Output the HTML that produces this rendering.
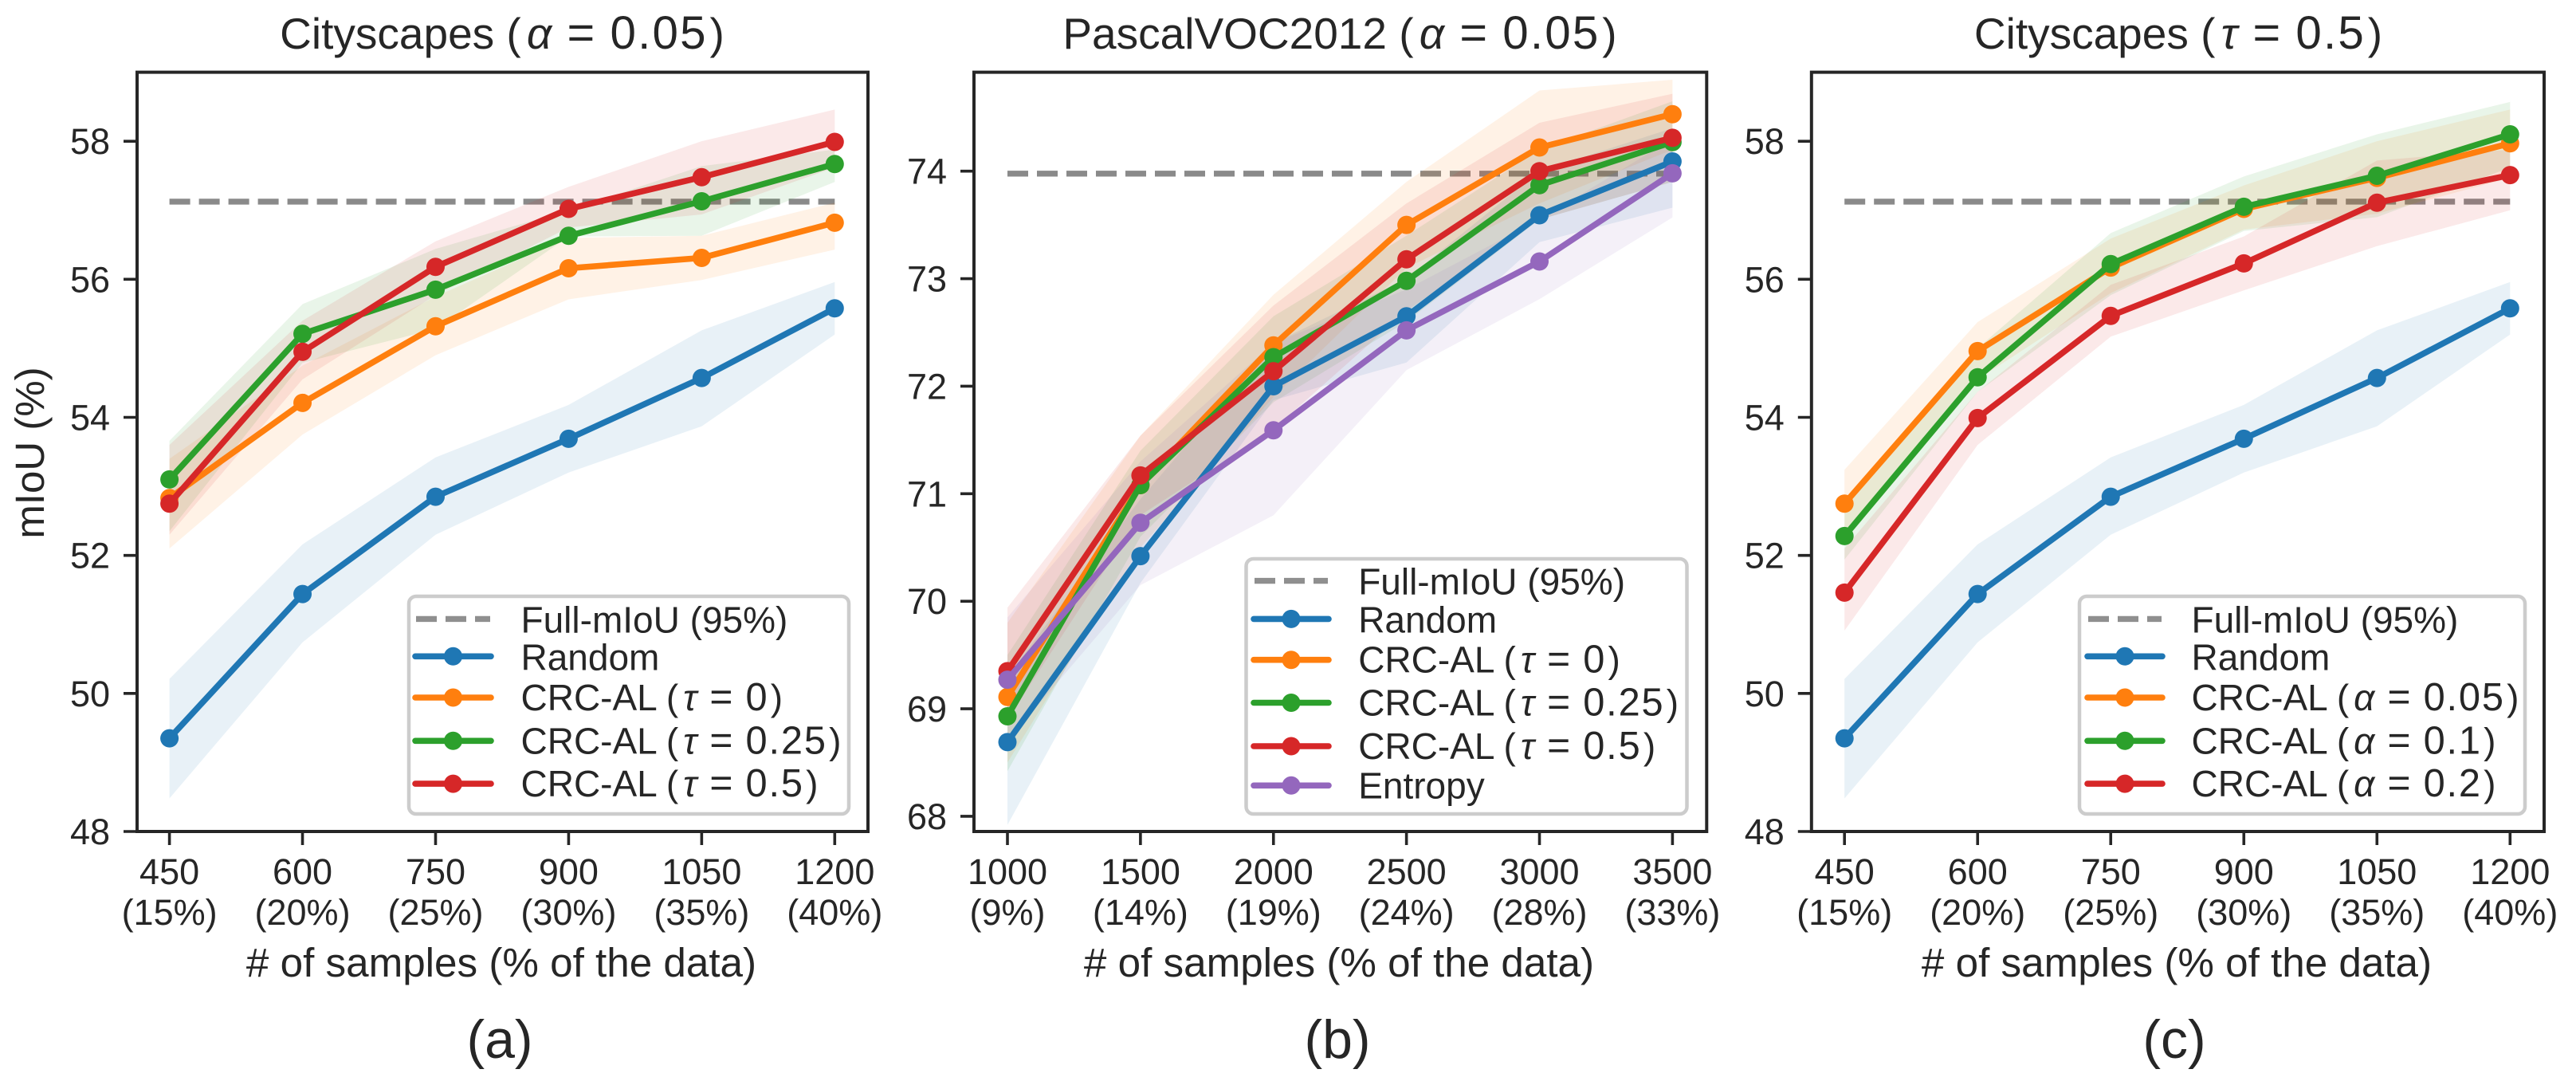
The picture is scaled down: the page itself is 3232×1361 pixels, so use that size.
<!DOCTYPE html>
<html>
<head>
<meta charset="utf-8">
<title>CRC-AL mIoU charts</title>
<style>
html,body{margin:0;padding:0;background:#fff;}
svg{display:block;}
text{font-family:"Liberation Sans","DejaVu Sans",sans-serif;fill:#262626;}
</style>
</head>
<body>
<svg id="figure" xmlns="http://www.w3.org/2000/svg" width="3232" height="1361" viewBox="0 0 3232 1361"></svg>
<script>
// ---- Data: x axis ----
const citySamples = [450, 600, 750, 900, 1050, 1200];
const cityPercents = ['(15%)', '(20%)', '(25%)', '(30%)', '(35%)', '(40%)'];
const vocSamples = [1000, 1500, 2000, 2500, 3000, 3500];
const vocPercents = ['(9%)', '(14%)', '(19%)', '(24%)', '(28%)', '(33%)'];
// ---- Data: y ticks ----
const cityYTicks = [48, 50, 52, 54, 56, 58];
const vocYTicks = [68, 69, 70, 71, 72, 73, 74];
// ---- Data: full-mIoU reference ----
const cityFullMiou = 57.125;
const vocFullMiou = 73.977;
// ---- Cityscapes random baseline (panels a and c) ----
const cityRandomMean = [49.35, 51.44, 52.85, 53.69, 54.57, 55.58];
const cityRandomLow = [48.48, 50.74, 52.3, 53.2, 53.87, 55.2];
const cityRandomHigh = [50.21, 52.16, 53.42, 54.18, 55.26, 55.96];
// ---- Panel a ----
const aTau0Mean = [52.83, 54.21, 55.32, 56.16, 56.31, 56.82];
const aTau0Low = [52.1, 53.75, 54.9, 55.71, 55.99, 56.43];
const aTau0High = [53.4, 54.75, 55.75, 56.6, 56.63, 57.11];
const aTau25Mean = [53.1, 55.21, 55.85, 56.63, 57.13, 57.67];
const aTau25Low = [52.35, 54.79, 55.28, 56.62, 56.63, 57.41];
const aTau25High = [53.66, 55.64, 56.44, 57.0, 57.64, 57.88];
const aTau5Mean = [52.75, 54.95, 56.18, 57.02, 57.48, 57.99];
const aTau5Low = [52.3, 54.55, 55.77, 56.75, 56.94, 57.62];
const aTau5High = [53.6, 55.4, 56.55, 57.34, 58.0, 58.46];
// ---- Panel b ----
const bRandomMean = [68.69, 70.42, 72.0, 72.65, 73.59, 74.09];
const bRandomLow = [67.92, 70.17, 71.87, 72.22, 73.34, 73.66];
const bRandomHigh = [69.3, 70.95, 72.4, 73.0, 74.0, 74.4];
const bTau0Mean = [69.11, 71.08, 72.38, 73.5, 74.22, 74.53];
const bTau0Low = [68.5, 70.5, 71.9, 73.1, 73.7, 74.2];
const bTau0High = [69.8, 71.54, 72.85, 73.9, 74.75, 74.85];
const bTau25Mean = [68.93, 71.08, 72.27, 72.98, 73.87, 74.27];
const bTau25Low = [68.42, 70.6, 71.85, 72.6, 73.55, 73.9];
const bTau25High = [69.5, 71.4, 72.65, 73.4, 74.2, 74.65];
const bTau5Mean = [69.35, 71.17, 72.14, 73.18, 74.0, 74.31];
const bTau5Low = [68.9, 70.8, 71.6, 72.7, 73.55, 73.9];
const bTau5High = [69.94, 71.54, 72.75, 73.7, 74.45, 74.72];
const bEntropyMean = [69.27, 70.73, 71.59, 72.52, 73.16, 73.98];
const bEntropyLow = [68.7, 70.15, 70.8, 72.15, 72.81, 73.57];
const bEntropyHigh = [69.85, 71.3, 72.4, 72.9, 73.55, 74.3];
// ---- Panel c ----
const cAlpha05Mean = [52.75, 54.96, 56.17, 57.02, 57.47, 57.97];
const cAlpha05Low = [52.3, 54.55, 55.8, 56.72, 56.95, 57.47];
const cAlpha05High = [53.24, 55.38, 56.59, 57.36, 58.0, 58.46];
const cAlpha1Mean = [52.28, 54.58, 56.22, 57.05, 57.5, 58.1];
const cAlpha1Low = [51.94, 54.37, 55.77, 56.7, 56.9, 57.62];
const cAlpha1High = [52.8, 55.0, 56.67, 57.49, 58.1, 58.57];
const cAlpha2Mean = [51.46, 53.99, 55.47, 56.23, 57.11, 57.51];
const cAlpha2Low = [50.91, 53.6, 55.17, 55.84, 56.48, 57.0];
const cAlpha2High = [52.1, 54.37, 55.92, 56.62, 57.72, 57.88];

// ---- Style ----
const BLUE = '#1f77b4', ORANGE = '#ff7f0e', GREEN = '#2ca02c', RED = '#d62728', PURPLE = '#9467bd';
const INK = '#262626';
const svg = document.getElementById('figure');
const NS = 'http://www.w3.org/2000/svg';

function mk(tag, attrs, parent) {
  const el = document.createElementNS(NS, tag);
  for (const k in attrs) el.setAttribute(k, attrs[k]);
  (parent || svg).appendChild(el);
  return el;
}
function addText(str, x, y, size, anchor, parent, extra) {
  const t = mk('text', Object.assign({x: x, y: y, 'font-size': size, 'text-anchor': anchor || 'start'}, extra || {}), parent);
  const m = str.match(/^(.*\()([ατ]) = ([\d.]+)\)$/);
  if (!m) {
    t.textContent = str;
    return t;
  }
  // Mathtext-like spacing: wider symbols and numerals than the surrounding label
  const pieces = [
    {s: m[1], a: {}},
    {s: m[2], a: {'font-style': 'italic', dx: 0.13 * size}},
    {s: ' = ', a: {'font-size': 1.08 * size, dx: 0.05 * size}},
    {s: m[3], a: {'font-size': 1.06 * size, 'letter-spacing': 0.04 * size, dx: 0.05 * size}},
    {s: ')', a: {dx: 0.05 * size}}
  ];
  pieces.forEach(function (piece) {
    const sp = mk('tspan', piece.a, t);
    sp.textContent = piece.s;
  });
  return t;
}

function drawPanel(p) {
  const g = mk('g', {});
  
  
  const b = p.box;
  const xMin = p.samples[0], xMax = p.samples[p.samples.length - 1];
  const X = function (v) { return b.tickX0 + (v - xMin) / (xMax - xMin) * (b.tickX1 - b.tickX0); };
  const Y = function (v) { return b.bottom - (v - p.yMin) / (p.yMax - p.yMin) * (b.bottom - b.top); };
  const xFirst = X(xMin), xLast = X(xMax);

  // Reference line sits under the shaded bands
  const ref = mk('line', {x1: xFirst, x2: xLast, y1: Y(p.full), y2: Y(p.full), stroke: '#8a8a8a', 'stroke-width': 7.4, 'stroke-dasharray': '26 11'}, g);
  
  

  // Bands
  p.series.forEach(function (s) {
    const up = s.high.map(function (v, i) { return X(p.samples[i]) + ',' + Y(v); });
    const dn = s.low.map(function (v, i) { return X(p.samples[i]) + ',' + Y(v); }).reverse();
    const band = mk('polygon', {points: up.concat(dn).join(' '), fill: s.color, 'fill-opacity': 0.1}, g);
    
    
  });

  // Lines + markers
  p.series.forEach(function (s) {
    const pts = s.mean.map(function (v, i) { return X(p.samples[i]) + ',' + Y(v); }).join(' ');
    const line = mk('polyline', {points: pts, fill: 'none', stroke: s.color, 'stroke-width': 7.6, 'stroke-linejoin': 'round'}, g);
    
    
    s.mean.forEach(function (v, i) {
      const dot = mk('circle', {cx: X(p.samples[i]), cy: Y(v), r: 11.5, fill: s.color}, g);
      
      
    });
  });

  // Spines
  const frame = mk('rect', {x: b.left, y: b.top, width: b.right - b.left, height: b.bottom - b.top, fill: 'none', stroke: INK, 'stroke-width': 4}, g);
  
  

  // Y ticks
  p.yTicks.forEach(function (v) {
    const tk = mk('line', {x1: b.left - 17, x2: b.left, y1: Y(v), y2: Y(v), stroke: INK, 'stroke-width': 3.6}, g);
    
    
    const lab = addText(String(v), b.left - 34, Y(v) + 16, 45, 'end', g);
    
    
  });

  // X ticks
  p.samples.forEach(function (v, i) {
    const tk = mk('line', {x1: X(v), x2: X(v), y1: b.bottom, y2: b.bottom + 17, stroke: INK, 'stroke-width': 3.6}, g);
    
    
    const l1 = addText(String(v), X(v), 1109, 45, 'middle', g);
    
    
    const l2 = addText(p.percents[i], X(v), 1160, 45, 'middle', g);
    
    
  });

  // Titles and axis labels
  const title = addText(p.title, b.titleX, 61, 55, 'middle', g);
  
  
  const xl = addText('# of samples (% of the data)', b.xLabelX, 1225, 51.2, 'middle', g);
  
  
  const cap = addText(p.caption, b.captionX, 1327, 68, 'middle', g);
  
  
  if (p.yLabel) {
    const yl = addText(p.yLabel, 0, 0, 51, 'middle', g, {transform: 'translate(55,568) rotate(-90)'});
    
    
  }

  // Legend
  const L = p.legend;
  const lg = mk('g', {}, g);
  
  
  const lbox = mk('rect', {x: L.x0, y: L.y0, width: L.x1 - L.x0, height: L.y1 - L.y0, rx: 9, ry: 9, fill: '#fff', 'fill-opacity': 0.8, stroke: '#cccccc', 'stroke-width': 4.5}, lg);
  
  

  const dashH = mk('line', {x1: L.hx0 + 1, x2: L.hx1 - 1, y1: L.rows[0], y2: L.rows[0], stroke: '#8f8f8f', 'stroke-width': 7.4, 'stroke-dasharray': '26 11'}, lg);
  
  
  const dashT = addText('Full-mIoU (95%)', L.tx, L.rows[0] + L.base[0], 46, 'start', lg);
  
  

  p.series.forEach(function (s, i) {
    const yy = L.rows[i + 1];
    const hl = mk('line', {x1: L.hx0, x2: L.hx1, y1: yy, y2: yy, stroke: s.color, 'stroke-width': 7.6, 'stroke-linecap': 'round'}, lg);
    
    
    const hd = mk('circle', {cx: (L.hx0 + L.hx1) / 2, cy: yy, r: 11.5, fill: s.color}, lg);
    
    
    const ht = addText(s.label, L.tx, yy + L.base[i + 1], 46, 'start', lg);
    
    
  });
}

drawPanel({
  key: 'a', title: 'Cityscapes (α = 0.05)', caption: '(a)', yLabel: 'mIoU (%)',
  samples: citySamples, percents: cityPercents, yTicks: cityYTicks, yMin: 48, yMax: 59, full: cityFullMiou,
  box: {left: 172, right: 1089, top: 90.6, bottom: 1043, tickX0: 212.6, tickX1: 1047.3, titleX: 630, xLabelX: 629, captionX: 627},
  legend: {x0: 513, x1: 1065, y0: 748, y1: 1021, hx0: 521, hx1: 616, tx: 653.5,
    rows: [776.4, 823.3, 875, 929.3, 983.1], base: [17, 17, 16, 16, 16]},
  series: [
    {id: 'random', label: 'Random', color: BLUE, mean: cityRandomMean, low: cityRandomLow, high: cityRandomHigh},
    {id: 'tau-0', label: 'CRC-AL (τ = 0)', color: ORANGE, mean: aTau0Mean, low: aTau0Low, high: aTau0High},
    {id: 'tau-0-25', label: 'CRC-AL (τ = 0.25)', color: GREEN, mean: aTau25Mean, low: aTau25Low, high: aTau25High},
    {id: 'tau-0-5', label: 'CRC-AL (τ = 0.5)', color: RED, mean: aTau5Mean, low: aTau5Low, high: aTau5High}
  ]
});

drawPanel({
  key: 'b', title: 'PascalVOC2012 (α = 0.05)', caption: '(b)', yLabel: '',
  samples: vocSamples, percents: vocPercents, yTicks: vocYTicks, yMin: 67.859, yMax: 74.92, full: vocFullMiou,
  box: {left: 1222, right: 2141.3, top: 90.6, bottom: 1043, tickX0: 1264, tickX1: 2098.4, titleX: 1681, xLabelX: 1680, captionX: 1678},
  legend: {x0: 1563.5, x1: 2116.5, y0: 701, y1: 1021, hx0: 1573, hx1: 1667, tx: 1704.2,
    rows: [728.6, 776.4, 827.7, 881.5, 936, 985.3], base: [17, 17, 16, 16, 16, 16]},
  series: [
    {id: 'random', label: 'Random', color: BLUE, mean: bRandomMean, low: bRandomLow, high: bRandomHigh},
    {id: 'tau-0', label: 'CRC-AL (τ = 0)', color: ORANGE, mean: bTau0Mean, low: bTau0Low, high: bTau0High},
    {id: 'tau-0-25', label: 'CRC-AL (τ = 0.25)', color: GREEN, mean: bTau25Mean, low: bTau25Low, high: bTau25High},
    {id: 'tau-0-5', label: 'CRC-AL (τ = 0.5)', color: RED, mean: bTau5Mean, low: bTau5Low, high: bTau5High},
    {id: 'entropy', label: 'Entropy', color: PURPLE, mean: bEntropyMean, low: bEntropyLow, high: bEntropyHigh}
  ]
});

drawPanel({
  key: 'c', title: 'Cityscapes (τ = 0.5)', caption: '(c)', yLabel: '',
  samples: citySamples, percents: cityPercents, yTicks: cityYTicks, yMin: 48, yMax: 59, full: cityFullMiou,
  box: {left: 2272.8, right: 3192, top: 90.6, bottom: 1043, tickX0: 2314.2, tickX1: 3149.3, titleX: 2733, xLabelX: 2731, captionX: 2728},
  legend: {x0: 2609, x1: 3168, y0: 748, y1: 1021, hx0: 2619, hx1: 2713, tx: 2749.5,
    rows: [776.4, 823.3, 875, 929.3, 983.1], base: [17, 17, 16, 16, 16]},
  series: [
    {id: 'random', label: 'Random', color: BLUE, mean: cityRandomMean, low: cityRandomLow, high: cityRandomHigh},
    {id: 'alpha-0-05', label: 'CRC-AL (α = 0.05)', color: ORANGE, mean: cAlpha05Mean, low: cAlpha05Low, high: cAlpha05High},
    {id: 'alpha-0-1', label: 'CRC-AL (α = 0.1)', color: GREEN, mean: cAlpha1Mean, low: cAlpha1Low, high: cAlpha1High},
    {id: 'alpha-0-2', label: 'CRC-AL (α = 0.2)', color: RED, mean: cAlpha2Mean, low: cAlpha2Low, high: cAlpha2High}
  ]
});
</script>
</body>
</html>
